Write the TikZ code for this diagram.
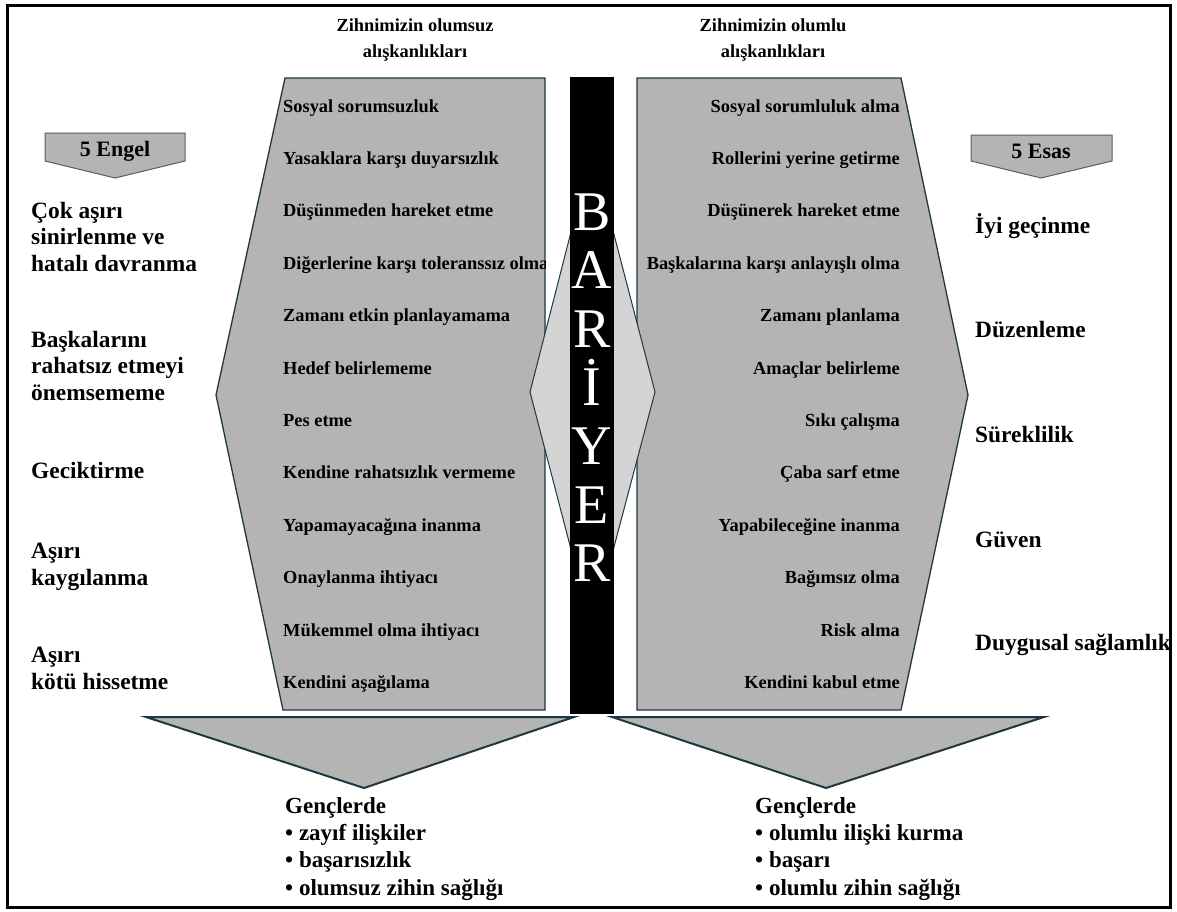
\documentclass[tikz,border=0pt]{standalone}
\usepackage{fontspec}
\setmainfont{Liberation Serif}
\usetikzlibrary{positioning}
\definecolor{habitgray}{RGB}{180,180,180}
\definecolor{barriergray}{RGB}{212,212,212}
\definecolor{edgeblue}{RGB}{30,55,65}
\definecolor{tagedge}{RGB}{70,100,115}

\begin{document}
\begin{tikzpicture}[x=1pt, y=-1pt,
  habit/.style={draw=edgeblue, line width=1.3pt, fill=habitgray},
  item/.style={inner sep=0pt, anchor=base west, font=\fontsize{18.4}{22}\selectfont\bfseries},
  itemr/.style={item, anchor=base east},
  side/.style={inner sep=0pt, anchor=base west, align=left,
               font=\fontsize{23.4}{26.5}\selectfont\bfseries},
  title/.style={inner sep=0pt, align=center, font=\fontsize{18.4}{26}\selectfont\bfseries},
  result/.style={inner sep=0pt, anchor=base west, align=left,
                 font=\fontsize{23}{27.3}\selectfont\bfseries},
  letter/.style={text=white, inner sep=0pt, anchor=base, font=\fontsize{56}{56}\selectfont},
  tag/.style={inner sep=0pt, font=\fontsize{22}{22}\selectfont\bfseries}
]
  \useasboundingbox (0,0) rectangle (1177,911);
  \fill[white] (0,0) rectangle (1177,911);
  \draw[line width=3pt] (7,5) rectangle (1170,907);

  % Titles
  \node[title] (negt) at (415,40) {Zihnimizin olumsuz\\alışkanlıkları};
  \node[title] (post) at (773,40) {Zihnimizin olumlu\\alışkanlıkları};

  % Habit shapes
  \draw[habit] (285,78) -- (545,78) -- (545,710) -- (283,710) -- (216,395) -- cycle;
  \draw[habit] (637,78) -- (901,78) -- (968,395) -- (901,710) -- (637,710) -- cycle;

  % Barrier
  \draw[draw=edgeblue, line width=1pt, fill=barriergray]
    (530,392) -- (592,150) -- (655,392) -- (592,630) -- cycle;
  \fill[black] (570,77) rectangle (614,714);
  \node[letter] (b1) at (592,230) {B};
  \node[letter] (b2) at (592,288.6) {A};
  \node[letter] (b3) at (592,347) {R};
  \node[letter] (b4) at (592,405.8) {İ};
  \node[letter] (b5) at (592,464) {Y};
  \node[letter] (b6) at (592,523) {E};
  \node[letter] (b7) at (592,581.6) {R};

  % Negative habits
  \begin{scope}
    \clip (285,78) -- (545,78) -- (545,710) -- (283,710) -- (216,395) -- cycle;
    \node[item] (n1) at (283,112) {Sosyal sorumsuzluk};
    \node[item] (n2) at (283,164.4) {Yasaklara karşı duyarsızlık};
    \node[item] (n3) at (283,216.8) {Düşünmeden hareket etme};
    \node[item] (n4) at (283,269.2) {Diğerlerine karşı toleranssız olma};
    \node[item] (n5) at (283,321.6) {Zamanı etkin planlayamama};
    \node[item] (n6) at (283,374) {Hedef belirlememe};
    \node[item] (n7) at (283,426.4) {Pes etme};
    \node[item] (n8) at (283,478.8) {Kendine rahatsızlık vermeme};
    \node[item] (n9) at (283,531.2) {Yapamayacağına inanma};
    \node[item] (n10) at (283,583.6) {Onaylanma ihtiyacı};
    \node[item] (n11) at (283,636) {Mükemmel olma ihtiyacı};
    \node[item] (n12) at (283,688.4) {Kendini aşağılama};
  \end{scope}

  % Positive habits
  \node[itemr] (p1) at (900,112) {Sosyal sorumluluk alma};
  \node[itemr] (p2) at (900,164.4) {Rollerini yerine getirme};
  \node[itemr] (p3) at (900,216.8) {Düşünerek hareket etme};
  \node[itemr] (p4) at (900,269.2) {Başkalarına karşı anlayışlı olma};
  \node[itemr] (p5) at (900,321.6) {Zamanı planlama};
  \node[itemr] (p6) at (900,374) {Amaçlar belirleme};
  \node[itemr] (p7) at (900,426.4) {Sıkı çalışma};
  \node[itemr] (p8) at (900,478.8) {Çaba sarf etme};
  \node[itemr] (p9) at (900,531.2) {Yapabileceğine inanma};
  \node[itemr] (p10) at (900,583.6) {Bağımsız olma};
  \node[itemr] (p11) at (900,636) {Risk alma};
  \node[itemr] (p12) at (900,688.4) {Kendini kabul etme};

  % Tags
  \draw[draw=tagedge, line width=1pt, fill=habitgray]
    (45,133) -- (185,133) -- (185,161) -- (115,178) -- (45,161) -- cycle;
  \node[tag] (engel) at (115,151) {5 Engel};
  \draw[draw=tagedge, line width=1pt, fill=habitgray]
    (971,135) -- (1112,135) -- (1112,161) -- (1041,178) -- (971,161) -- cycle;
  \node[tag] (esas) at (1041,151) {5 Esas};

  % Obstacles
  \node[side] (o1) at (31,271) {Çok aşırı\\sinirlenme ve\\hatalı davranma};
  \node[side] (o2) at (31,400) {Başkalarını\\rahatsız etmeyi\\önemsememe};
  \node[side] (o3) at (31,478) {Geciktirme};
  \node[side] (o4) at (31,585) {Aşırı\\kaygılanma};
  \node[side] (o5) at (31,689) {Aşırı\\kötü hissetme};

  % Essentials
  \node[side] (e1) at (975,233) {İyi geçinme};
  \node[side] (e2) at (975,337) {Düzenleme};
  \node[side] (e3) at (975,442) {Süreklilik};
  \node[side] (e4) at (975,547) {Güven};
  \node[side] (e5) at (975,650) {Duygusal sağlamlık};

  % Outcomes
  \draw[habit, line width=2pt] (146,717) -- (574,717) -- (364,788) -- cycle;
  \draw[habit, line width=2pt] (612,717) -- (1044,717) -- (826,788) -- cycle;
  \node[result] (bad) at (285,895)
    {Gençlerde\\• zayıf ilişkiler\\• başarısızlık\\• olumsuz zihin sağlığı};
  \node[result] (good) at (755,895)
    {Gençlerde\\• olumlu ilişki kurma\\• başarı\\• olumlu zihin sağlığı};
\end{tikzpicture}
\end{document}
